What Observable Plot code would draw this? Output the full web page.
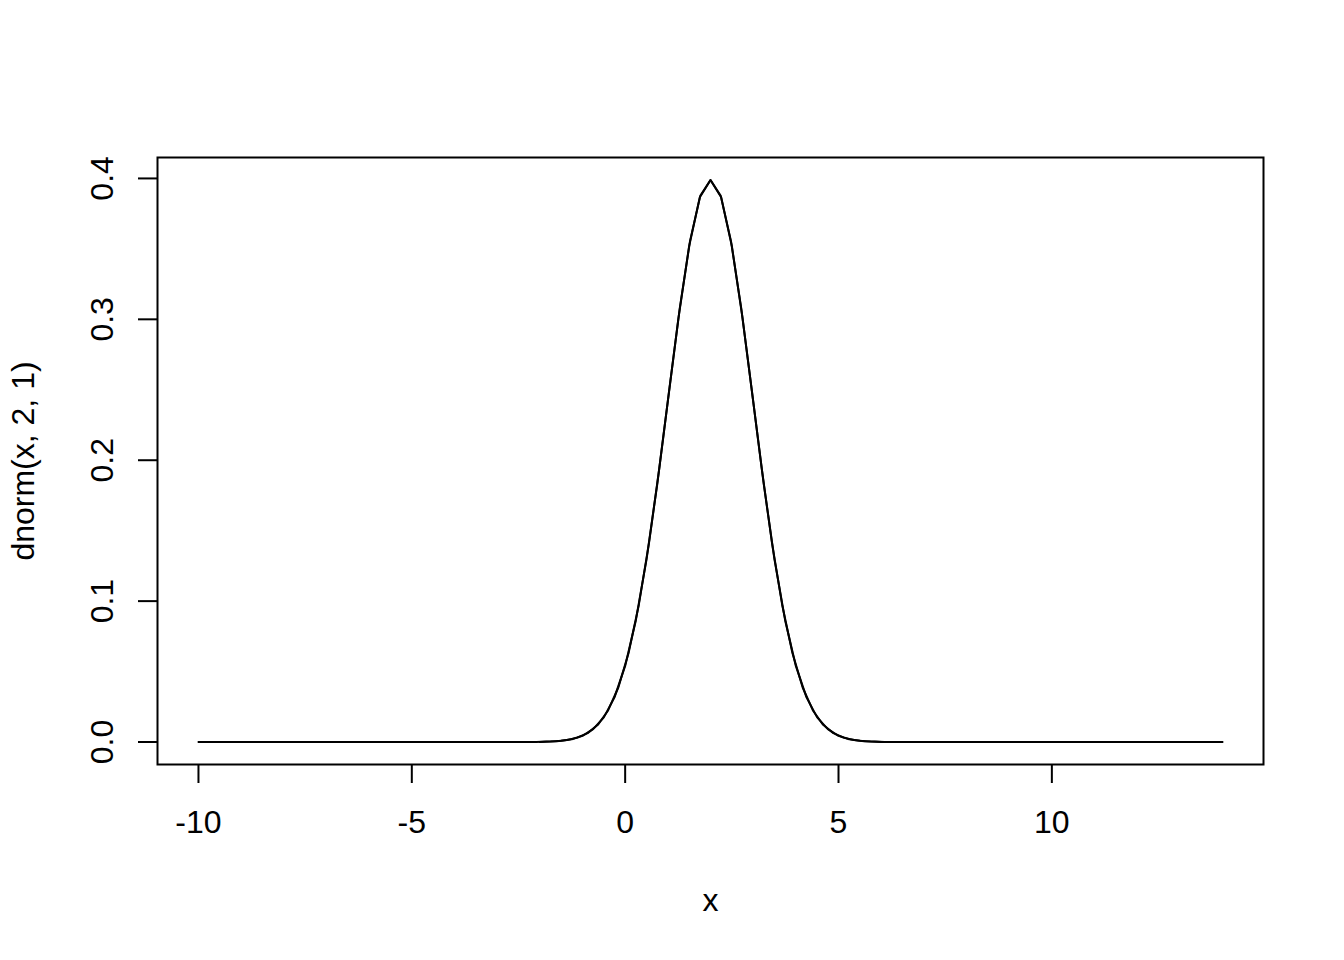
<!DOCTYPE html>
<html>
<head>
<meta charset="utf-8">
<script src="https://cdn.jsdelivr.net/npm/d3@7"></script>
<script src="https://cdn.jsdelivr.net/npm/@observablehq/plot@0.6"></script>
<style>
  html, body { margin: 0; padding: 0; background: #fff; }
</style>
</head>
<body>
<div id="chart"></div>
<script>
// Curve 1: sampled on -10..14 (101 points)
const curve1Start = -10, curve1Step = 0.24;
const curve1Y = [
  0,0,0,0,0,0,0,0,0,0,0,0,0,0,0,0,0,0,0,0,0,0,0,0,0,0,0,0,0,0,0,0,0,
  0.0001,0.0003,0.0006,0.0014,0.0031,0.0063,0.0122,0.0224,0.0387,0.0632,0.0973,0.1415,0.1942,0.2516,0.3079,0.3555,0.3876,
  0.3989,
  0.3876,0.3555,0.3079,0.2516,0.1942,0.1415,0.0973,0.0632,0.0387,0.0224,0.0122,0.0063,0.0031,0.0014,0.0006,0.0003,0.0001,
  0,0,0,0,0,0,0,0,0,0,0,0,0,0,0,0,0,0,0,0,0,0,0,0,0,0,0,0,0,0,0,0,0
];
// Curve 2: sampled on -2..7
const curve2Start = -2, curve2Step = 0.25;
const curve2Y = [
  0.0001,0.0004,0.0009,0.0020,0.0044,0.0091,0.0175,0.0317,0.0540,0.0863,0.1295,0.1826,0.2420,0.3011,0.3521,0.3867,
  0.3989,
  0.3867,0.3521,0.3011,0.2420,0.1826,0.1295,0.0863,0.0540,0.0317,0.0175,0.0091,0.0044,0.0020,0.0009,0.0004,0.0001,
  0,0,0,0
];
const xTicks = [-10, -5, 0, 5, 10];
const yTicks = [0.0, 0.1, 0.2, 0.3, 0.4];
const xTitle = "x";
const yTitle = "dnorm(x, 2, 1)";

const curve1 = curve1Y.map((y, i) => ({x: curve1Start + curve1Step * i, y}));
const curve2 = curve2Y.map((y, i) => ({x: curve2Start + curve2Step * i, y}));

const xMin = -10, xMax = 14, yMin = 0, yMax = 0.3989;
const xPad = (xMax - xMin) * 0.04, yPad = (yMax - yMin) * 0.04;

const font = "'Liberation Sans', Arial, Helvetica, sans-serif";
const fs = 32;

const chart = Plot.plot({
  width: 1344,
  height: 960,
  marginLeft: 157,
  marginRight: 81,
  marginTop: 157,
  marginBottom: 196,
  style: {fontFamily: font, fontSize: fs + "px", background: "#fff", color: "#000"},
  x: {domain: [xMin - xPad, xMax + xPad]},
  y: {domain: [yMin - yPad, yMax + yPad]},
  marks: [
    Plot.line(curve1, {x: "x", y: "y", stroke: "#000", strokeWidth: 2}),
    Plot.line(curve2, {x: "x", y: "y", stroke: "#000", strokeWidth: 2}),
    Plot.frame({stroke: "#000", strokeWidth: 2}),
    Plot.axisX({ticks: xTicks, tickSize: 19, tickPadding: 27, tickFormat: d => String(d),
      label: null, stroke: "#000", strokeWidth: 2, fontSize: fs, anchor: "bottom"}),
    Plot.axisY({ticks: yTicks, tickSize: 19, tickFormat: () => "", label: null,
      stroke: "#000", strokeWidth: 2, anchor: "left"}),
    Plot.text(yTicks, {y: d => d, text: d => d.toFixed(1), frameAnchor: "left", dx: -45,
      rotate: -90, lineAnchor: "bottom", textAnchor: "middle", fontSize: fs, fill: "#000"}),
    Plot.text([xTitle], {text: d => d, frameAnchor: "bottom", dy: 146, lineAnchor: "bottom",
      fontSize: fs, fill: "#000"}),
    Plot.text([yTitle], {text: d => d, frameAnchor: "left", dx: -124, rotate: -90,
      lineAnchor: "bottom", textAnchor: "middle", fontSize: fs, fill: "#000"})
  ]
});
document.getElementById("chart").appendChild(chart);
</script>
</body>
</html>
